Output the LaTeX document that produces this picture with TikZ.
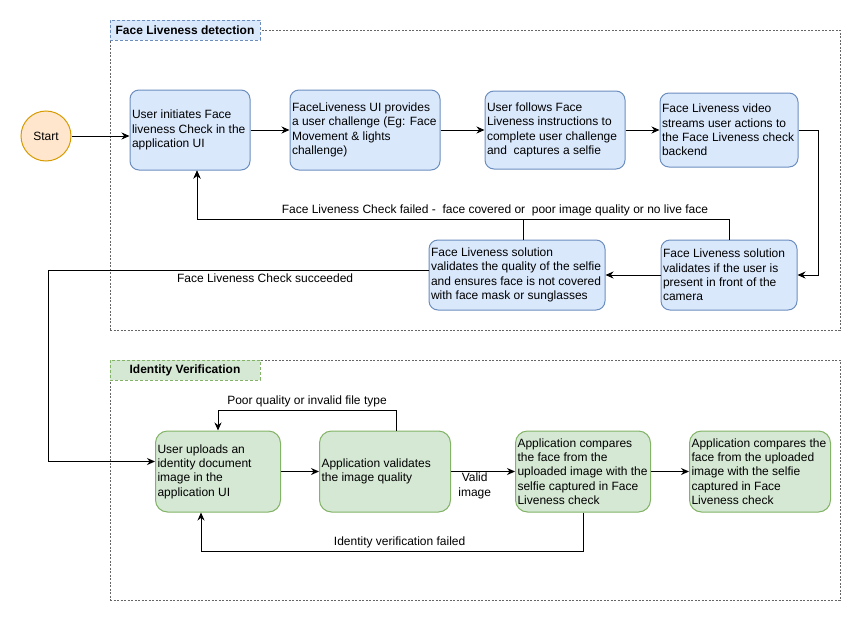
\documentclass[tikz,border=0pt]{standalone}
\usepackage{fontspec}
\setmainfont{Liberation Sans}
\usetikzlibrary{positioning,arrows.meta}
\definecolor{lvfill}{HTML}{DAE8FC}
\definecolor{lvline}{HTML}{6C8EBF}
\definecolor{idfill}{HTML}{D5E8D4}
\definecolor{idline}{HTML}{82B366}
\definecolor{stfill}{HTML}{FFE6CC}
\definecolor{stline}{HTML}{D79B00}

\begin{document}
\begin{tikzpicture}[x=1pt,y=-1pt,node distance=3cm,on grid,
   font=\fontsize{12}{14.3}\selectfont,line width=1pt,
   >={Stealth[length=8pt,width=7pt]},
   lvstep/.style={rectangle,rounded corners=9pt,draw=lvline,fill=lvfill,align=flush left,inner xsep=2pt,inner ysep=2pt},
   idstep/.style={rectangle,rounded corners=12pt,draw=idline,fill=idfill,align=flush left,inner xsep=2pt,inner ysep=2pt},
   group/.style={rectangle,draw=black!60,dash pattern=on 2pt off 1.5pt,line width=0.8pt,inner sep=0pt},
   lvhead/.style={rectangle,draw=lvline,fill=lvfill,dash pattern=on 3pt off 2pt,inner sep=0pt,font=\fontsize{12}{14.3}\selectfont\bfseries},
   idhead/.style={rectangle,draw=idline,fill=idfill,dash pattern=on 3pt off 2pt,inner sep=0pt,font=\fontsize{12}{14.3}\selectfont\bfseries},
   startnode/.style={circle,draw=stline,fill=stfill,minimum size=50pt,inner sep=0pt}] 
   \useasboundingbox (0,0) rectangle (861,621);

   % the two groups
   \node[group,minimum width=730pt,minimum height=300pt] (lvgroup) at (475,180) {};
   \node[lvhead,minimum width=150pt,minimum height=20pt] (lvtitle) at (185,30) {Face Liveness detection};
   \node[group,minimum width=730pt,minimum height=240pt] (idgroup) at (475,480) {};
   \node[idhead,minimum width=150pt,minimum height=20pt] (idtitle) at (185,370) {Identity Verification};

   % face liveness steps
   \node[lvstep,text width=116pt,minimum height=80pt] (a1) at (190,130) {User initiates Face\\liveness Check in the\\application UI};
   \node[startnode] (start) [left=144pt of a1,yshift=-6pt] {Start};
   \node[lvstep,text width=146pt,minimum height=80pt] (a2) [right=175pt of a1] {FaceLiveness UI provides\\a user challenge (Eg: Face\\Movement \& lights\\challenge)};
   \node[lvstep,text width=136pt,minimum height=78pt] (a3) [right=190pt of a2] {User follows Face\\Liveness instructions to\\complete user challenge\\and \ captures a selfie};
   \node[lvstep,text width=134pt,minimum height=74pt] (a4) [right=174pt of a3] {Face Liveness video\\streams user actions to\\the Face Liveness check\\backend};
   \node[lvstep,text width=132pt,minimum height=70pt] (b2) [below=145pt of a4] {Face Liveness solution\\validates if the user is\\present in front of the\\camera};
   \node[lvstep,text width=172pt,minimum height=70pt] (b1) [left=212pt of b2] {Face Liveness solution\\validates the quality of the selfie\\and ensures face is not covered\\with face mask or sunglasses};

   % identity verification steps
   \node[idstep,text width=121pt,minimum height=81pt] (c1) at (218,471.5) {User uploads an\\identity document\\image in the\\application UI};
   \node[idstep,text width=127pt,minimum height=81pt] (c2) [right=167pt of c1] {Application validates\\the image quality};
   \node[idstep,text width=131pt,minimum height=81pt] (c3) [right=198pt of c2] {Application compares\\the face from the\\uploaded image with the\\selfie captured in Face\\Liveness check};
   \node[idstep,text width=137pt,minimum height=81pt] (c4) [right=177pt of c3] {Application compares the\\face from the uploaded\\image with the selfie\\captured in Face\\Liveness check};

   \draw[->] (start.east) -- (start.east -| a1.west);
   \path[->] (a1) edge (a2);
   \path[->] (a2) edge (a3);
   \path[->] (a3) edge (a4);
   \draw[->] (a4.east) -- ++(20,0) |- (b2.east);
   \path[->] (b2) edge (b1);

   \draw[->] (b2.north) -- ++(0,-20) -| node[above,pos=0.22] {Face Liveness Check failed - \ face covered or \ poor image quality or no live face} ([xshift=7pt]a1.south);
   \draw[->] ([xshift=6pt]b1.north) -- ++(0,-20) -| ([xshift=7pt]a1.south);
   \draw[->] ([yshift=5pt]b1.west) -- node[below,pos=0.43] {Face Liveness Check succeeded} ++(-380,0) |- ([yshift=10pt]c1.west);

   \path[->] (c1) edge (c2);
   \path[->] (c2) edge node[below,align=center,inner sep=1pt,pos=0.37] {Valid\\image} (c3);
   \path[->] (c3) edge (c4);
   \draw[->] ([xshift=11pt]c2.north) -- ++(0,-20) -| node[above,pos=0.25] {Poor quality or invalid file type} (c1.north);
   \draw[->] (c3.south) -- ++(0,39) -| node[above,pos=0.24] {Identity verification failed} ([xshift=-17pt]c1.south);
\end{tikzpicture}
\end{document}
